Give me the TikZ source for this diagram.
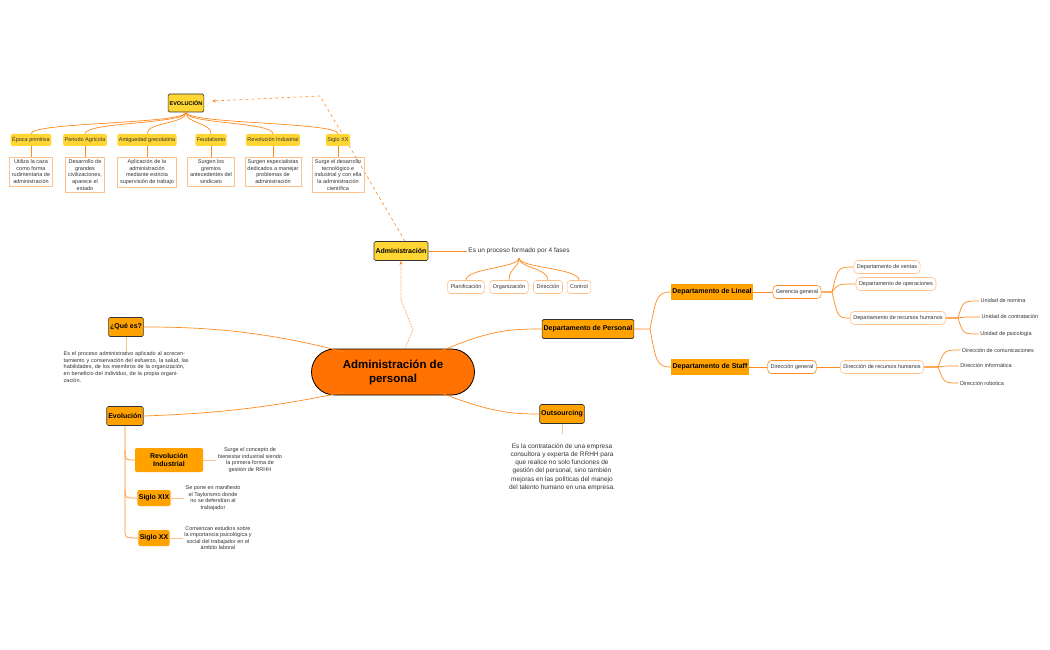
\documentclass[tikz,border=0pt]{standalone}
\usepackage{fontspec}
\setmainfont{Liberation Sans}
\usetikzlibrary{arrows.meta,positioning,shapes.misc,decorations.pathmorphing}
\definecolor{linec}{HTML}{FF8A1E}
\definecolor{palec}{HTML}{FFC08A}
\definecolor{yel}{HTML}{FFD633}
\definecolor{org}{HTML}{FFA200}
\definecolor{centc}{HTML}{FF7100}
\definecolor{txt}{HTML}{333333}
\begin{document}
\begin{tikzpicture}[x=1pt,y=-1pt,
  every node/.style={font=\fontsize{5.5}{6.6}\selectfont, text=txt, inner sep=1.5pt},
  topic/.style={draw=black!80, line width=0.6pt, rounded corners=1.5pt, font=\fontsize{7}{8}\selectfont\bfseries, text=black, minimum height=19pt},
  era/.style={fill=yel, rounded corners=2pt, minimum height=12pt, font=\fontsize{5.5}{6.6}\selectfont},
  desc/.style={draw=palec, line width=0.5pt, align=center, inner sep=2.5pt},
  pill/.style={draw=palec, line width=0.6pt, rounded corners=4pt, minimum height=13pt, inner xsep=3pt},
  sub/.style={fill=org, font=\fontsize{7}{8}\selectfont\bfseries, text=black},
  conn/.style={draw=linec, line width=0.7pt},
  pconn/.style={draw=palec, line width=1pt}]
\useasboundingbox (0,0) rectangle (1050,650);

% centre and main topics
\node[draw=black, line width=0.8pt, fill=centc, rounded rectangle, minimum width=166pt, minimum height=46pt, align=center, font=\fontsize{11.5}{14}\selectfont\bfseries, text=black] (centro) at (393,372) {Administración de\\personal};
\node[topic, fill=yel] (admin) at (401,251) {Administración};
\node[topic, fill=org] (quees) at (126,327) {¿Qué es?};
\node[topic, fill=org] (evol) at (125,416) {Evolución};
\node[topic, fill=org] (dpers) at (588,329) {Departamento de Personal};
\node[topic, fill=org] (outs) at (562,414) {Outsourcing};

\draw[conn] (centro.north west) ++(8,3) coordinate (cq) .. controls (260,330) and (200,327) .. (quees.east);
\draw[conn] (centro.south west) ++(8,-3) coordinate (ce) .. controls (260,410) and (200,414) .. (evol.east);
\draw[conn] (centro.north east) ++(-12,3) coordinate (cd) .. controls (490,330) and (510,329) .. (dpers.west);
\draw[conn] (centro.south east) ++(-12,-3) coordinate (co) .. controls (490,412) and (510,414) .. (outs.west);

% Administracion
\draw[linec, line width=0.7pt, densely dotted, -{Stealth[length=4pt]}] (centro.north) ++(12,0) -- (413,330) -- (401,300) -- (admin.south);
\coordinate (codo) at (320,96);
\draw[linec, line width=0.6pt, dashed, -{Stealth[length=4pt]}] (admin.north) ++(4,0) -- (codo) -- (212,101);
\node (fases) at (519,251) {\fontsize{6.5}{8}\selectfont Es un proceso formado por 4 fases};
\draw[conn] (admin.east) -- (fases.west);
\foreach \n/\x/\t in {f1/466/Planificación, f2/509/Organización, f3/548/Dirección, f4/579/Control}{
  \node[pill, minimum height=13pt, rounded corners=3pt] (\n) at (\x,287) {\t};
  \draw[conn] (519,258) .. controls (519,268) and (\x,268) .. (\n.north);
}

% EVOLUCION row
\node[topic, fill=yel, minimum height=18pt, font=\fontsize{5.5}{6.6}\selectfont\bfseries] (evtop) at (186,103) {EVOLUCIÓN};
\foreach \n/\x/\t/\d in {
  e1/31/Época primitiva/{Utiliza la caza\\como forma\\rudimentaria de\\administración},
  e2/85/Periodo Agrícola/{Desarrollo de\\grandes\\civilizaciones,\\aparece el\\estado},
  e3/147/Antiguedad grecolatina/{Aplicación de la\\administración\\mediante estricta\\supervisión de trabajo},
  e4/211/Feudalismo/{Surgen los\\gremios\\antecedentes del\\sindicato},
  e5/273/Revolución Industrial/{Surgen especialistas\\dedicados a manejar\\problemas de\\administración},
  e6/338/Siglo XX/{Surge el desarrollo\\tecnológico e\\industrial y con ella\\la administración\\científica}}{
  \node[era] (\n) at (\x,140) {\t};
  \node[desc, anchor=north] (\n d) at (\x,157) {\d};
  \draw[conn] (evtop.south) .. controls (186,124) and (\x,122) .. (\n.north);
  \draw[conn] (\n.south) -- (\n d.north);
}

% Que es
\node[align=left, anchor=north west, text width=128pt] (qtxt) at (62,350) {Es el proceso administrativo aplicado al acrecentamiento y conservación del esfuerzo, la salud, las habilidades, de los miembros de la organización, en beneficio del individuo, de la propia organización.};
\draw[pconn] (quees.south) -- (126,351);

% Evolucion (left)
\node[sub, rounded corners=2pt, align=center, minimum width=68pt, minimum height=24pt] (ri) at (169,460) {Revolución\\Industrial};
\node[sub, rounded corners=2pt, minimum height=16pt] (s19) at (154,498) {Siglo XIX};
\node[sub, rounded corners=2pt, minimum height=16pt] (s20) at (154,538) {Siglo XX};
\node[align=center] (rid) at (250,460) {Surge el concepto de\\bienestar industrial siendo\\la primera forma de\\gestión de RRHH};
\node[align=center] (s19d) at (213,498) {Se pone en manifiesto\\el Taylorismo donde\\no se defendían al\\trabajador};
\node[align=center] (s20d) at (218,538) {Comienzan estudios sobre\\la importancia psicológica y\\social del trabajador en el\\ámbito laboral};
\draw[conn] (evol.south) -- (125,530) .. controls (125,538) .. (s20.west);
\draw[conn] (125,490) .. controls (125,498) .. (s19.west);
\draw[conn] (125,450) .. controls (125,460) .. (ri.west);
\draw[pconn] (ri.east) -- (rid.west);
\draw[pconn] (s19.east) -- (s19d.west);
\draw[pconn] (s20.east) -- (s20d.west);

% Outsourcing
\node[align=center, font=\fontsize{6.5}{8.2}\selectfont] (otxt) at (562,467) {Es la contratación de una empresa\\consultora y experta de RRHH para\\que realice no solo funciones de\\gestión del personal, sino también\\mejoras en las políticas del manejo\\del talento humano en una empresa.};
\draw[pconn] (outs.south) -- (562,434);

% Departamento de Personal
\node[sub, minimum height=16pt] (dlin) at (712,292) {Departamento de Lineal};
\node[sub, minimum height=16pt] (dstaff) at (710,367) {Departamento de Staff};
\draw[conn] (dpers.east) -- (650,329) .. controls (656,300) and (656,292) .. (dlin.west);
\draw[conn] (650,329) .. controls (656,360) and (656,367) .. (dstaff.west);

\node[pill, draw=linec] (ger) at (797,292) {Gerencia general};
\node[pill, draw=linec] (dirg) at (792,367) {Dirección general};
\draw[conn] (dlin.east) -- (ger.west);
\draw[conn] (dstaff.east) -- (dirg.west);

\foreach \n/\x/\y/\t in {dv/887/267/Departamento de ventas, dop/896/284/Departamento de operaciones, drh/898/318/Departamento de recursos humanos}{
  \node[pill] (\n) at (\x,\y) {\t};
  \draw[conn] (ger.east) -- (832,292) .. controls (838,\y) .. (\n.west);
}
\foreach \n/\x/\y/\t in {u1/1003/301/Unidad de nomina, u2/1010/317/Unidad de contratación, u3/1006/334/Unidad de psicología}{
  \node (\n) at (\x,\y) {\t};
  \draw[conn] (drh.east) -- (958,318) .. controls (963,\y) .. (\n.west);
}

\node[pill] (drhs) at (882,367) {Dirección de recursos humanos};
\draw[conn] (dirg.east) -- (drhs.west);
\foreach \n/\x/\y/\t in {c1/998/350/Dirección de comunicaciones, c2/986/366/Dirección informática, c3/982/383/Dirección robotica}{
  \node (\n) at (\x,\y) {\t};
  \draw[conn] (drhs.east) -- (938,367) .. controls (944,\y) .. (\n.west);
}
\end{tikzpicture}
\end{document}
